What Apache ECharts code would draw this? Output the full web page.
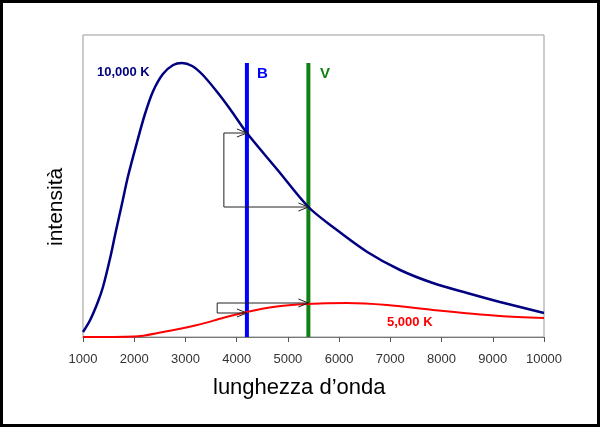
<!DOCTYPE html>
<html>
<head>
<meta charset="utf-8">
<title>intensità / lunghezza d'onda</title>
<script src="https://cdn.jsdelivr.net/npm/echarts@6/dist/echarts.min.js"></script>
<style>
	body{margin:0;background:#fff;}
	#chart{width:600px;height:427px;}
</style>
</head>
<body>
<div id="chart"></div>
<script>
/* 
	数据：读自原图
 */

// 10,000 K 曲线
var wave10k = [1000,1140,1290,1390,1530,1630,1760,1880,2050,2210,2370,2560,2760,2930,3130,3340,3620,3870,4200,4800,5400,5880,6550,7190,7830,8500,9140,10000];
var inten10k = [5,17,35,50,79,103,133,161,194,223,246,263,272,274,271,262,245,228,204,167,130,110,85,67,54,44,35,24];

// 5,000 K 曲线
var wave5k = [1000,2000,2560,3230,3730,4200,4710,5370,6150,6940,7830,9140,10000];
var inten5k = [0,0.5,5,12,19,25,30,33,34,32,27,21,19];

// B、V 波段
var bandNames = ['B','V'];
var bandWave = [4200,5400];
var bandTop = 274;

// 箭头：x1,y1,x2,y2,是否带箭头
var arrowList = [
	[3750,204,3750,130,0],
	[3750,204,4200,204,1],
	[3750,130,5400,130,1],
	[3620,34,3620,24,0],
	[3620,34,5400,34,1],
	[3620,24,4200,24,1]
];

// 刻度
var xTicks = [1000,2000,3000,4000,5000,6000,7000,8000,9000,10000];

function zip(xs, ys){
	var out = [];
	for(var i=0;i<xs.length;i++){
		out.push([xs[i], ys[i]]);
	}
	return out;
}

var myChart = echarts.init(document.getElementById('chart'));

var fontName = 'Liberation Sans, Arial, sans-serif';

var option = {
	animation:false,
	grid:{
		left:83, right:56, top:35, bottom:90,
		show:true, borderColor:'#999', borderWidth:1, backgroundColor:'#fff'
	},
	xAxis:{
		type:'value',
		min:xTicks[0], max:xTicks[xTicks.length-1], interval:1000,
		axisLine:{show:true, lineStyle:{color:'#777', width:1}},
		axisTick:{show:true, length:5, lineStyle:{color:'#555'}},
		axisLabel:{
			color:'#333', fontSize:13, fontFamily:fontName, margin:16,
			formatter:function(v){ return String(v); }
		},
		splitLine:{show:false}
	},
	yAxis:{
		type:'value', min:0, max:302, show:false
	},
	graphic:[
		{
			type:'rect', silent:true,
			shape:{x:1.5, y:1.5, width:597, height:424},
			style:{fill:null, stroke:'#000', lineWidth:3}
		},
		{
			type:'text', left:213, top:377,
			style:{text:'lunghezza d’onda', font:'22px ' + fontName, fill:'#000'}
		},
		{
			type:'text', x:46, y:246, rotation:Math.PI/2,
			style:{text:'intensità', font:'21px ' + fontName, fill:'#000'}
		},
		{
			type:'text', left:97, top:66,
			style:{text:'10,000 K', font:'bold 13px ' + fontName, fill:'#000080'}
		},
		{
			type:'text', left:387, top:316,
			style:{text:'5,000 K', font:'bold 13px ' + fontName, fill:'#ff0000'}
		},
		{
			type:'text', left:257, top:66,
			style:{text:bandNames[0], font:'bold 15px ' + fontName, fill:'#0000ff'}
		},
		{
			type:'text', left:320, top:66,
			style:{text:bandNames[1], font:'bold 15px ' + fontName, fill:'#118011'}
		}
	],
	series:[
		{
			name:bandNames[0], type:'line', symbol:'none', silent:true, z:1,
			data:[[bandWave[0],0],[bandWave[0],bandTop]],
			lineStyle:{color:'#0000ff', width:4}
		},
		{
			name:bandNames[1], type:'line', symbol:'none', silent:true, z:1,
			data:[[bandWave[1],0],[bandWave[1],bandTop]],
			lineStyle:{color:'#118011', width:4}
		},
		{
			name:'10,000 K', type:'line', symbol:'none', smooth:0.3, z:3,
			data:zip(wave10k, inten10k),
			lineStyle:{color:'#000080', width:2.5}
		},
		{
			name:'5,000 K', type:'line', symbol:'none', smooth:0.3, z:3,
			data:zip(wave5k, inten5k),
			lineStyle:{color:'#ff0000', width:2}
		},
		{
			name:'arrows', type:'custom', z:5, silent:true,
			data:arrowList,
			renderItem:function(params, api){
				var p1 = api.coord([api.value(0), api.value(1)]);
				var p2 = api.coord([api.value(2), api.value(3)]);
				var kids = [{
					type:'line',
					shape:{x1:p1[0], y1:p1[1], x2:p2[0], y2:p2[1]},
					style:{stroke:'#222', lineWidth:1}
				}];
				if(api.value(4)){
					kids.push({
						type:'polyline',
						shape:{points:[[p2[0]-10,p2[1]-4],[p2[0],p2[1]],[p2[0]-10,p2[1]+4]]},
						style:{stroke:'#222', lineWidth:1, fill:null}
					});
				}
				return {type:'group', children:kids};
			}
		}
	]
};

myChart.setOption(option);
</script>
</body>
</html>
